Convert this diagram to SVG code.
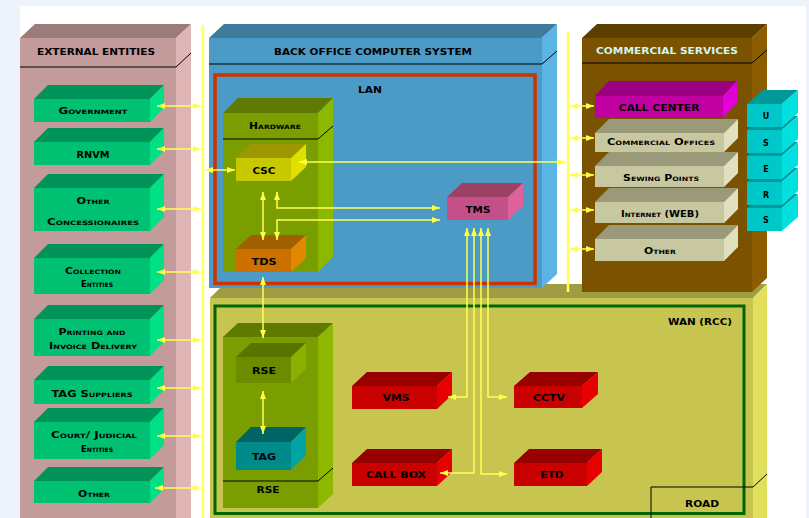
<svg xmlns="http://www.w3.org/2000/svg" width="809" height="518" viewBox="0 0 809 518">
<style>
text{font-family:"DejaVu Sans","Liberation Sans",sans-serif;font-weight:bold;font-size:8px;text-anchor:middle;fill:#000}
.h{font-size:9px}
.sc{font-variant:small-caps;font-size:8.5px}
.cy{fill:#d2f6f0}
.ln{fill:none;stroke:#ffff55;stroke-width:1.5;marker-start:url(#ah);marker-end:url(#ah)}
.bus{fill:none;stroke:#ffff66;stroke-width:2.5}
.ef{fill:#c39b9b}.et{fill:#9c7b7b}.es{fill:#deb4b4}
.gf{fill:#00c172}.gt{fill:#00935a}.gs{fill:#00e084}
.bf{fill:#4b9bc6}.bt{fill:#3f7b9b}.bs{fill:#5ab4e4}
.wf{fill:#c8c450}.wt{fill:#a09c42}.ws{fill:#e0e05c}
.hf{fill:#7a9e00}.ht{fill:#5e7a00}.hs{fill:#8cb800}
.rf{fill:#6c8c00}.rt{fill:#5a7400}.rs{fill:#8cb000}
.cf{fill:#c8c800}.ct{fill:#9e9800}.cs{fill:#e0e000}
.of{fill:#cc7000}.ot{fill:#a06000}.os{fill:#e08800}
.mf{fill:#c4508a}.mt{fill:#9c4064}.ms{fill:#e0609a}
.kf{fill:#7a5200}.kt{fill:#5c3e00}.ks{fill:#8c5c00}
.pf{fill:#c000a0}.pt{fill:#9a0080}.ps{fill:#e000d8}
.qf{fill:#c8c8a0}.qt{fill:#9a9a78}.qs{fill:#e0e0c0}
.uf{fill:#00c8c8}.ut{fill:#009898}.us{fill:#00e0e0}
.xf{fill:#008a8a}.xt{fill:#006464}.xs{fill:#00a4a4}
.df{fill:#c80000}.dt{fill:#980000}.ds{fill:#e80000}
.dv{fill:none;stroke:#000;stroke-width:1}
</style>
<defs>
<marker id="ah" viewBox="0 0 8 8" refX="8" refY="4" markerWidth="8" markerHeight="8" markerUnits="userSpaceOnUse" orient="auto-start-reverse">
<path d="M0,1 L8,4 L0,7 z" fill="#ffff44"/>
</marker>
</defs>
<rect x="0" y="0" width="809" height="518" fill="#eef3fb"/>
<rect x="20" y="6" width="786" height="512" fill="#ffffff"/>

<g id="external-entities">
<rect class="ef" x="20" y="38" width="156" height="490"/>
<polygon class="et" points="20,38 35,24 191,24 176,38"/>
<polygon class="es" points="176,38 191,24 191,528 176,528"/>
<polyline class="dv" points="20,67 176,67 191,53"/>
<text class="h" x="96" y="55" textLength="118" lengthAdjust="spacingAndGlyphs">EXTERNAL ENTITIES</text>
</g>
<g id="government">
<rect class="gf" x="34" y="99" width="116" height="23"/><polygon class="gt" points="34,99 48,85 164,85 150,99"/><polygon class="gs" points="150,99 164,85 164,108 150,122"/>
<text class="sc" x="93" y="114" textLength="69" lengthAdjust="spacingAndGlyphs">Government</text>
</g>
<g id="rnvm">
<rect class="gf" x="34" y="142" width="116" height="23"/><polygon class="gt" points="34,142 48,128 164,128 150,142"/><polygon class="gs" points="150,142 164,128 164,151 150,165"/>
<text x="93" y="158" textLength="33" lengthAdjust="spacingAndGlyphs">RNVM</text>
</g>
<g id="other-concessionaires">
<rect class="gf" x="34" y="188" width="116" height="43"/><polygon class="gt" points="34,188 48,174 164,174 150,188"/><polygon class="gs" points="150,188 164,174 164,217 150,231"/>
<text class="sc" x="93" y="204" textLength="33" lengthAdjust="spacingAndGlyphs">Other</text>
<text class="sc" x="93" y="225" textLength="92" lengthAdjust="spacingAndGlyphs">Concessionaires</text>
</g>
<g id="collection-entities">
<rect class="gf" x="34" y="258" width="116" height="36"/><polygon class="gt" points="34,258 48,244 164,244 150,258"/><polygon class="gs" points="150,258 164,244 164,280 150,294"/>
<text class="sc" x="93" y="274" textLength="56" lengthAdjust="spacingAndGlyphs">Collection</text>
<text class="sc" x="97" y="287" textLength="32" lengthAdjust="spacingAndGlyphs">Entities</text>
</g>
<g id="printing-invoice">
<rect class="gf" x="34" y="319" width="116" height="37"/><polygon class="gt" points="34,319 48,305 164,305 150,319"/><polygon class="gs" points="150,319 164,305 164,342 150,356"/>
<text class="sc" x="92" y="335" textLength="67" lengthAdjust="spacingAndGlyphs">Printing and</text>
<text class="sc" x="93" y="349" textLength="88" lengthAdjust="spacingAndGlyphs">Invoice Delivery</text>
</g>
<g id="tag-suppliers">
<rect class="gf" x="34" y="380" width="116" height="24"/><polygon class="gt" points="34,380 48,366 164,366 150,380"/><polygon class="gs" points="150,380 164,366 164,390 150,404"/>
<text class="sc" x="92" y="397" textLength="81" lengthAdjust="spacingAndGlyphs">TAG Suppliers</text>
</g>
<g id="court-judicial">
<rect class="gf" x="34" y="422" width="116" height="37"/><polygon class="gt" points="34,422 48,408 164,408 150,422"/><polygon class="gs" points="150,422 164,408 164,445 150,459"/>
<text class="sc" x="94" y="438" textLength="86" lengthAdjust="spacingAndGlyphs">Court/ Judicial</text>
<text class="sc" x="97" y="452" textLength="32" lengthAdjust="spacingAndGlyphs">Entities</text>
</g>
<g id="other-external">
<rect class="gf" x="34" y="481" width="116" height="22"/><polygon class="gt" points="34,481 48,467 164,467 150,481"/><polygon class="gs" points="150,481 164,467 164,489 150,503"/>
<text class="sc" x="94" y="497" textLength="32" lengthAdjust="spacingAndGlyphs">Other</text>
</g>

<g id="wan">
<rect class="wf" x="210" y="298" width="543" height="230"/>
<polygon class="wt" points="210,298 224,284 767,284 753,298"/>
<polygon class="ws" points="753,298 767,284 767,528 753,528"/>
<rect x="215" y="306" width="529" height="207.5" fill="none" stroke="#006600" stroke-width="3"/>
<text x="700" y="325" textLength="64" lengthAdjust="spacingAndGlyphs">WAN (RCC)</text>
</g>

<g id="back-office">
<rect class="bf" x="209" y="38" width="333" height="250"/>
<polygon class="bt" points="209,38 224,24 557,24 542,38"/>
<polygon class="bs" points="542,38 557,24 557,274 542,288"/>
<polyline class="dv" points="209,64 542,64 557,51"/>
<text class="h" x="373" y="55" textLength="198" lengthAdjust="spacingAndGlyphs">BACK OFFICE COMPUTER SYSTEM</text>
</g>
<g id="lan">
<rect x="215" y="75" width="320" height="208.5" fill="#4b9bc6" stroke="#cc3300" stroke-width="3.5"/>
<text x="370" y="93" textLength="24" lengthAdjust="spacingAndGlyphs">LAN</text>
</g>
<g id="hardware">
<rect class="hf" x="223" y="113" width="95" height="159"/>
<polygon class="ht" points="223,113 238,98 333,98 318,113"/>
<polygon class="hs" points="318,113 333,98 333,257 318,272"/>
<polyline class="dv" points="223,139 318,139 333,126"/>
<text class="sc" x="275" y="129" textLength="52" lengthAdjust="spacingAndGlyphs">Hardware</text>
</g>
<g id="csc">
<rect class="cf" x="236" y="158" width="55" height="23"/><polygon class="ct" points="236,158 251,144 306,144 291,158"/><polygon class="cs" points="291,158 306,144 306,167 291,181"/>
<text x="264" y="174" textLength="23" lengthAdjust="spacingAndGlyphs">CSC</text>
</g>
<g id="tds">
<rect class="of" x="236" y="249" width="55" height="23"/><polygon class="ot" points="236,249 251,235 306,235 291,249"/><polygon class="os" points="291,249 306,235 306,258 291,272"/>
<text x="264" y="265" textLength="25" lengthAdjust="spacingAndGlyphs">TDS</text>
</g>
<g id="tms">
<rect class="mf" x="447" y="197" width="61" height="23"/><polygon class="mt" points="447,197 462,183 523,183 508,197"/><polygon class="ms" points="508,197 523,183 523,206 508,220"/>
<text x="478" y="213" textLength="25" lengthAdjust="spacingAndGlyphs">TMS</text>
</g>

<g id="commercial-services">
<rect class="kf" x="582" y="38" width="170" height="254"/>
<polygon class="kt" points="582,38 597,24 767,24 752,38"/>
<polygon class="ks" points="752,38 767,24 767,278 752,292"/>
<polyline class="dv" points="582,63 752,63 767,50"/>
<text class="h cy" x="667" y="54" textLength="142" lengthAdjust="spacingAndGlyphs">COMMERCIAL SERVICES</text>
</g>
<g id="other-commercial">
<rect class="qf" x="595" y="239" width="129" height="22"/><polygon class="qt" points="595,239 609,225 738,225 724,239"/><polygon class="qs" points="724,239 738,225 738,247 724,261"/>
<text class="sc" x="660" y="254" textLength="32" lengthAdjust="spacingAndGlyphs">Other</text>
</g>
<g id="internet-web">
<rect class="qf" x="595" y="202" width="129" height="21"/><polygon class="qt" points="595,202 609,188 738,188 724,202"/><polygon class="qs" points="724,202 738,188 738,209 724,223"/>
<text class="sc" x="660" y="217" textLength="78" lengthAdjust="spacingAndGlyphs">Internet (WEB)</text>
</g>
<g id="sewing-points">
<rect class="qf" x="595" y="166" width="129" height="21"/><polygon class="qt" points="595,166 609,152 738,152 724,166"/><polygon class="qs" points="724,166 738,152 738,173 724,187"/>
<text class="sc" x="661" y="181" textLength="76" lengthAdjust="spacingAndGlyphs">Sewing Points</text>
</g>
<g id="commercial-offices">
<rect class="qf" x="595" y="133" width="129" height="19"/><polygon class="qt" points="595,133 609,119 738,119 724,133"/><polygon class="qs" points="724,133 738,119 738,138 724,152"/>
<text class="sc" x="661" y="145" textLength="108" lengthAdjust="spacingAndGlyphs">Commercial Offices</text>
</g>
<g id="call-center">
<rect class="pf" x="595" y="96" width="128" height="22"/><polygon class="pt" points="595,96 609,81 737,81 723,96"/><polygon class="ps" points="723,96 737,81 737,103 723,118"/>
<text x="659" y="111" textLength="81" lengthAdjust="spacingAndGlyphs">CALL CENTER</text>
</g>

<g id="users">
<rect class="uf" x="747" y="208" width="35" height="23"/><polygon class="ut" points="747,208 763,194 798,194 782,208"/><polygon class="us" points="782,208 798,194 798,217 782,231"/>
<text x="766" y="223">S</text>
<rect class="uf" x="747" y="182" width="35" height="23"/><polygon class="ut" points="747,182 763,168 798,168 782,182"/><polygon class="us" points="782,182 798,168 798,191 782,205"/>
<text x="766" y="198">R</text>
<rect class="uf" x="747" y="156" width="35" height="23"/><polygon class="ut" points="747,156 763,142 798,142 782,156"/><polygon class="us" points="782,156 798,142 798,165 782,179"/>
<text x="766" y="172">E</text>
<rect class="uf" x="747" y="130" width="35" height="23"/><polygon class="ut" points="747,130 763,116 798,116 782,130"/><polygon class="us" points="782,130 798,116 798,139 782,153"/>
<text x="766" y="146">S</text>
<rect class="uf" x="747" y="104" width="35" height="23"/><polygon class="ut" points="747,104 763,90 798,90 782,104"/><polygon class="us" points="782,104 798,90 798,113 782,127"/>
<text x="766" y="119">U</text>
</g>

<g id="rse-container">
<rect class="hf" x="223" y="337" width="95" height="171"/>
<polygon class="ht" points="223,337 238,323 333,323 318,337"/>
<polygon class="hs" points="318,337 333,323 333,494 318,508"/>
<polyline class="dv" points="223,481 318,481 333,468"/>
<text x="268" y="493" textLength="23" lengthAdjust="spacingAndGlyphs">RSE</text>
</g>
<g id="rse">
<rect class="rf" x="236" y="357" width="55" height="26"/><polygon class="rt" points="236,357 251,343 306,343 291,357"/><polygon class="rs" points="291,357 306,343 306,369 291,383"/>
<text x="264" y="374" textLength="24" lengthAdjust="spacingAndGlyphs">RSE</text>
</g>
<g id="tag">
<rect class="xf" x="236" y="442" width="55" height="28"/><polygon class="xt" points="236,442 251,427 306,427 291,442"/><polygon class="xs" points="291,442 306,427 306,455 291,470"/>
<text x="264" y="460" textLength="24" lengthAdjust="spacingAndGlyphs">TAG</text>
</g>
<g id="vms">
<rect class="df" x="352" y="386" width="85" height="23"/><polygon class="dt" points="352,386 367,372 452,372 437,386"/><polygon class="ds" points="437,386 452,372 452,395 437,409"/>
<text x="396" y="401" textLength="27" lengthAdjust="spacingAndGlyphs">VMS</text>
</g>
<g id="call-box">
<rect class="df" x="352" y="463" width="85" height="23"/><polygon class="dt" points="352,463 367,449 452,449 437,463"/><polygon class="ds" points="437,463 452,449 452,472 437,486"/>
<text x="396" y="478" textLength="60" lengthAdjust="spacingAndGlyphs">CALL BOX</text>
</g>
<g id="cctv">
<rect class="df" x="514" y="386" width="68" height="22"/><polygon class="dt" points="514,386 530,372 598,372 582,386"/><polygon class="ds" points="582,386 598,372 598,394 582,408"/>
<text x="549" y="401" textLength="32" lengthAdjust="spacingAndGlyphs">CCTV</text>
</g>
<g id="etd">
<rect class="df" x="514" y="463" width="73" height="23"/><polygon class="dt" points="514,463 529,449 602,449 587,463"/><polygon class="ds" points="587,463 602,449 602,472 587,486"/>
<text x="552" y="478" textLength="23" lengthAdjust="spacingAndGlyphs">ETD</text>
</g>
<g id="road">
<polyline class="dv" points="651,518 651,487 753,487 767,474"/>
<text x="702" y="507" textLength="34" lengthAdjust="spacingAndGlyphs">ROAD</text>
</g>

<g id="connectors">
<path class="bus" d="M203,25 V518"/>
<path class="bus" d="M568,32 V292"/>
<path class="ln" d="M157,106 H201"/>
<path class="ln" d="M157,149 H201"/>
<path class="ln" d="M157,209 H201"/>
<path class="ln" d="M157,272 H201"/>
<path class="ln" d="M157,340 H201"/>
<path class="ln" d="M157,388 H201"/>
<path class="ln" d="M157,436 H201"/>
<path class="ln" d="M155,488 H201"/>
<path class="ln" d="M205,170 H235"/>
<path class="ln" d="M299,162 H566"/>
<path class="ln" d="M263,192 V240"/>
<path class="ln" d="M277,192 V208 H440"/>
<path class="ln" d="M277,240 V220 H440"/>
<path class="ln" d="M467,228 V397 H448"/>
<path class="ln" d="M474,228 V473 H440"/>
<path class="ln" d="M481,228 V474 H507"/>
<path class="ln" d="M488,228 V397 H507"/>
<path class="ln" d="M263,277 V338"/>
<path class="ln" d="M263,391 V434"/>
<path class="ln" d="M570,106 H594"/>
<path class="ln" d="M570,138 H594"/>
<path class="ln" d="M570,175 H594"/>
<path class="ln" d="M570,210 H594"/>
<path class="ln" d="M570,249 H594"/>
</g>
</svg>
